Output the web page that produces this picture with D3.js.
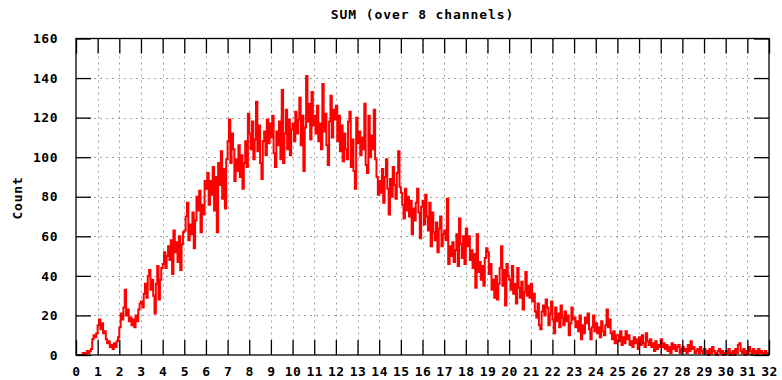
<!DOCTYPE html>
<html>
<head>
<meta charset="utf-8">
<script src="https://cdn.jsdelivr.net/npm/d3@7"></script>
<style>
  html, body { margin: 0; padding: 0; background: #fff; }
  svg { display: block; }
  text { font-family: "DejaVu Sans Mono", "Liberation Mono", monospace; font-weight: bold; font-size: 13px; letter-spacing: 0.5px; fill: #000; }
</style>
</head>
<body>
<svg id="chart" width="782" height="380"></svg>
<script>
// Summed histogram over 8 channels: 16 bins per unit on the 0..32 axis.
const title = "SUM (over 8 channels)";
const yLabel = "Count";
const binsPerUnit = 16;
const xTicks = [0,1,2,3,4,5,6,7,8,9,10,11,12,13,14,15,16,17,18,19,20,21,22,23,24,25,26,27,28,29,30,31,32];
const yTicks = [0,20,40,60,80,100,120,140,160];
const counts = [
  0,0,0,0,0,1,0,1,2,1,2,3,8,10,9,11,               // 0
  15,18,13,16,11,12,8,6,7,4,5,3,6,4,7,9,           // 1
  14,21,18,24,33,20,23,17,19,15,18,14,20,17,23,26, // 2
  27,24,31,36,29,40,43,33,38,30,21,36,45,28,38,44, // 3
  46,52,44,50,55,48,58,41,63,52,57,47,60,43,56,62, // 4
  63,70,77,58,66,61,72,54,68,80,73,83,62,76,71,88, // 5
  84,92,76,88,81,95,73,90,62,97,86,103,79,94,74,99,            // 6
  108,119,97,112,104,88,99,93,106,90,101,84,97,108,95,122,     // 7
  112,104,118,99,109,128,103,116,97,89,108,113,101,119,107,117, // 8
  110,121,102,95,113,106,118,99,134,97,112,124,104,119,101,114, // 9
  117,108,123,112,119,130,106,121,93,115,141,118,127,109,133,116, // 10
  121,112,126,108,117,104,137,113,122,106,96,118,131,110,124,119, // 11
  126,108,121,103,116,98,112,104,99,118,123,95,109,93,84,120,   // 12
  107,113,101,110,104,127,96,92,121,100,111,104,124,99,90,81,   // 13
  88,82,94,77,90,99,84,71,89,80,95,86,79,92,103,85, // 14
  82,76,69,84,73,80,70,78,61,74,68,77,84,72,59,75, // 15
  78,66,81,70,63,77,55,72,62,58,67,52,64,70,55,61, // 16
  63,58,79,46,55,50,57,47,53,61,45,69,56,49,60,46, // 17
  64,55,60,48,53,44,51,34,61,42,47,38,45,35,49,54, // 18
  52,41,46,33,38,29,40,28,36,44,55,35,43,25,46,40, // 19
  38,33,45,31,36,26,44,34,29,37,23,32,42,30,35,29, // 20
  36,27,31,22,19,26,15,13,22,25,20,28,24,15,21,27, // 21
  18,11,24,17,21,14,25,19,15,22,17,20,10,16,24,18, // 22
  19,14,17,12,20,8,15,11,19,16,21,13,8,14,20,12,   // 23
  16,11,14,9,17,12,10,15,23,14,18,11,8,12,6,10,    // 24
  10,7,12,5,9,6,12,8,10,5,7,4,9,6,8,3,             // 25
  9,5,10,6,4,11,7,5,8,4,6,2,7,3,5,4,               // 26
  8,4,6,3,5,2,4,1,6,3,5,2,4,5,1,3,                 // 27
  4,2,3,1,5,2,7,3,4,1,2,3,1,4,2,1,                 // 28
  3,1,2,0,3,1,4,2,1,0,2,3,1,2,0,1,                 // 29
  2,1,3,0,1,2,0,3,1,5,6,2,1,3,0,2,                 // 30
  1,4,2,0,3,1,2,0,3,1,2,1,0,2,1,0                  // 31
];

(function drawChart() {
  const svg = d3.select("#chart");
  const plotLeft = 76, plotRight = 769, plotTop = 38.5, plotBottom = 355;
  const x = d3.scaleLinear().domain([0, 32]).range([plotLeft, plotRight]);
  const y = d3.scaleLinear().domain([0, 160]).range([plotBottom, plotTop]);
  const tickLen = 15;

  // dotted grid
  const grid = svg.append("g").attr("stroke", "#a0a0a0").attr("stroke-width", 1).attr("stroke-dasharray", "2,4");
  grid.selectAll("line.gx").data(xTicks.slice(1, -1)).join("line")
    .attr("x1", d => Math.round(x(d)) + 0.5).attr("x2", d => Math.round(x(d)) + 0.5)
    .attr("y1", plotTop).attr("y2", plotBottom);
  grid.selectAll("line.gy").data(yTicks.slice(1, -1)).join("line")
    .attr("x1", plotLeft).attr("x2", plotRight)
    .attr("y1", d => Math.round(y(d)) + 0.5).attr("y2", d => Math.round(y(d)) + 0.5);

  // histogram as a step line
  const pts = counts.map((v, i) => [i / binsPerUnit, v]);
  pts.push([32, counts[counts.length - 1]]);
  const line = d3.line().x(d => x(d[0])).y(d => y(d[1])).curve(d3.curveStepAfter);
  svg.append("path").datum(pts)
    .attr("fill", "none").attr("stroke", "#ff0000").attr("stroke-width", 2)
    .attr("stroke-linejoin", "miter")
    .attr("d", line);

  // axes with inward ticks on all four sides
  function styleAxis(g) {
    g.select(".domain").remove();
    g.selectAll(".tick line").attr("stroke", "#000").attr("stroke-width", 1.3);
    g.selectAll("text").attr("font-family", null).attr("font-size", null).attr("fill", "#000");
  }
  svg.append("g").attr("transform", `translate(0,${plotBottom})`)
    .call(d3.axisBottom(x).tickValues(xTicks).tickFormat(d3.format("d")).tickSizeInner(-tickLen).tickSizeOuter(0).tickPadding(12))
    .call(styleAxis);
  svg.append("g").attr("transform", `translate(0,${plotTop})`)
    .call(d3.axisTop(x).tickValues(xTicks).tickFormat("").tickSizeInner(-tickLen).tickSizeOuter(0))
    .call(styleAxis);
  svg.append("g").attr("transform", `translate(${plotLeft},0)`)
    .call(d3.axisLeft(y).tickValues(yTicks).tickFormat(d3.format("d")).tickSizeInner(-tickLen).tickSizeOuter(0).tickPadding(18))
    .call(styleAxis);
  svg.append("g").attr("transform", `translate(${plotRight},0)`)
    .call(d3.axisRight(y).tickValues(yTicks).tickFormat("").tickSizeInner(-tickLen).tickSizeOuter(0))
    .call(styleAxis);

  // frame
  svg.append("rect").attr("x", plotLeft).attr("y", plotTop)
    .attr("width", plotRight - plotLeft).attr("height", plotBottom - plotTop)
    .attr("fill", "none").attr("stroke", "#000").attr("stroke-width", 1.3);

  // title and y label
  svg.append("text").attr("x", (plotLeft + plotRight) / 2).attr("y", 19).attr("text-anchor", "middle")
    .style("letter-spacing", "0.9px").text(title);
  svg.append("text").attr("transform", "translate(22,198) rotate(-90)").attr("text-anchor", "middle")
    .style("letter-spacing", "0.8px").text(yLabel);
})();
</script>
</body>
</html>
